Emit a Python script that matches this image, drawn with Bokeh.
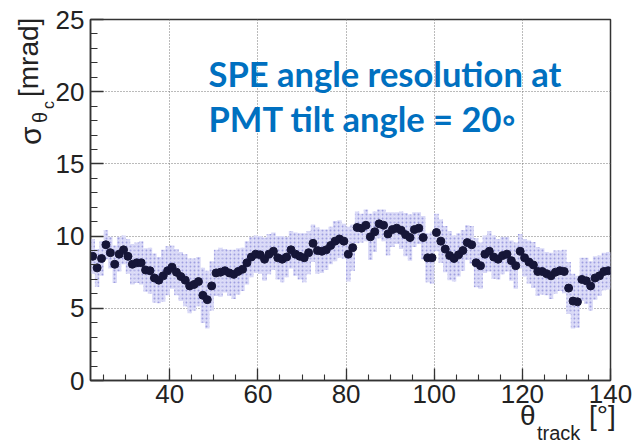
import numpy as np
from bokeh.plotting import figure
from bokeh.models import Range1d, SingleIntervalTicker, Label, ColumnDataSource, GridBox, Div
from bokeh.embed import file_html
from bokeh.resources import INLINE

# ---- data ----
theta_track = [22.5 + i for i in range(118)]
sigma = [
    8.6, 7.8, 8.45, 9.4, 8.85, 8.05, 8.75, 9.05, 8.6,
    8.05, 8.15, 8.15, 7.65, 7.6, 7.1, 6.95, 7.25, 7.6,
    7.85, 7.5, 7.2, 6.95, 6.55, 6.65, 6.85, 5.9, 5.6, 6.55,
    7.45, 7.5, 7.6, 7.45, 7.35, 7.55, 7.7, 8.15, 8.55, 8.75,
    8.7, 8.4, 8.75, 8.95, 8.5, 8.4, 8.55, 9.05, 8.75, 8.6,
    8.5, 8.85, 9.5, 9.0, 8.95, 9.05, 9.35, 9.65, 9.8, 9.65,
    8.75, 9.2, 10.6, 10.55, 10.75, 9.95, 10.3, 10.85, 10.75, 10.15,
    10.45, 10.55, 10.4, 10.1, 9.9, 10.45, 10.55, 9.9, 8.5, 8.5,
    10.25, 9.65, 9.1, 8.65, 8.45, 8.7, 9.0, 9.55, 9.4, 8.15,
    7.95, 8.75, 8.95, 8.55, 8.4, 8.65, 8.75, 8.3, 7.95, 8.95,
    8.5, 8.2, 8.0, 7.55, 7.55, 7.4, 7.25, 7.5, 7.6, 7.55,
    6.4, 5.5, 5.45, 7.0, 6.9, 6.55, 7.1, 7.25, 7.55, 7.6,
]
sigma_err = [
    1.2, 1.3, 1.2, 1.0, 1.1, 1.3, 1.2, 1.0, 1.2,
    1.4, 1.4, 1.5, 1.5, 1.6, 1.7, 1.6, 1.8, 1.7,
    1.5, 1.6, 1.7, 1.8, 1.9, 1.8, 1.7, 1.9, 2.0, 1.7,
    1.6, 1.7, 1.5, 1.6, 1.7, 1.6, 1.5, 1.5, 1.4, 1.3,
    1.3, 1.5, 1.4, 1.3, 1.5, 1.6, 1.4, 1.3, 1.5, 1.6,
    1.7, 1.5, 1.3, 1.6, 1.5, 1.4, 1.3, 1.4, 1.3, 1.2,
    1.9, 1.6, 1.1, 1.0, 1.1, 1.6, 1.4, 1.0, 1.1, 1.5,
    1.2, 1.1, 1.3, 1.5, 1.6, 1.2, 1.1, 1.5, 1.7, 1.8,
    1.3, 1.5, 1.6, 1.7, 1.6, 1.5, 1.4, 1.2, 1.3, 1.7,
    1.6, 1.3, 1.4, 1.5, 1.4, 1.3, 1.2, 1.4, 1.6, 1.2,
    1.3, 1.5, 1.6, 1.7, 1.6, 1.5, 1.6, 1.5, 1.4, 1.5,
    1.8, 1.9, 1.8, 1.5, 1.6, 1.7, 1.5, 1.4, 1.3, 1.3,
]
bin_width = 1.0
x_ticks_interval = 20
y_ticks_interval = 5
title_lines = ["SPE angle resolution at", "PMT tilt angle = 20\u25e6"]

x = np.array(theta_track)
y = np.array(sigma)
e = np.array(sigma_err)
src = ColumnDataSource(dict(
    x=x, y=y,
    left=x - bin_width / 2, right=x + bin_width / 2,
    bottom=y - e, top=y + e,
))

W, H = 637, 445
L, R, T, B = 90, 27, 19, 65
p = figure(width=W, height=H, output_backend="svg", toolbar_location=None,
           x_range=Range1d(22, 140), y_range=Range1d(0, 25),
           min_border_left=L, min_border_right=R, min_border_top=T, min_border_bottom=B)
p.background_fill_color = "white"
p.border_fill_color = "white"
p.outline_line_color = "#333333"
p.outline_line_width = 1.5

p.quad(left="left", right="right", bottom="bottom", top="top", source=src,
       fill_color="#dadaf7", line_color=None,
       hatch_pattern="dot", hatch_color="#9e9ee0", hatch_scale=4, hatch_weight=1)
p.scatter("x", "y", source=src, size=8, fill_color="#161638", line_color="#161638")

for ax in (p.xaxis[0], p.yaxis[0]):
    ax.axis_line_color = "#333333"
    ax.axis_line_width = 1.5
    ax.major_tick_line_color = "#333333"
    ax.minor_tick_line_color = "#333333"
    ax.major_tick_line_width = 1.3
    ax.minor_tick_line_width = 1.1
    ax.major_tick_out = 0
    ax.minor_tick_out = 0
    ax.major_label_text_font = "Liberation Sans"
    ax.major_label_text_font_size = "26px"
    ax.major_label_text_color = "#222222"
    ax.axis_label = None

p.xaxis[0].ticker = SingleIntervalTicker(interval=x_ticks_interval, num_minor_ticks=4)
p.yaxis[0].ticker = SingleIntervalTicker(interval=y_ticks_interval, num_minor_ticks=5)
p.xaxis[0].major_tick_in = 12
p.xaxis[0].minor_tick_in = 6
p.yaxis[0].major_tick_in = 13
p.yaxis[0].minor_tick_in = 7
p.xaxis[0].major_label_standoff = 4
p.yaxis[0].major_label_standoff = 6

for g in (p.xgrid[0], p.ygrid[0]):
    g.grid_line_color = "#777777"
    g.grid_line_dash = "1 2"
    g.grid_line_width = 1

# title text inside the frame (pixel -> data helpers)
fw, fh = W - L - R, H - T - B
def dx(px):
    return 22 + (px - L) * 118.0 / fw
def dy(py):
    return (H - B - py) * 25.0 / fh

SHIFT = 0.40  # baseline correction of Label text (fraction of font size)
blue = "#0070C0"
tsize = 34.5
for line, base in zip(title_lines, (87, 132)):
    p.add_layout(Label(x=dx(208), y=dy(base - SHIFT * tsize), text=line,
                       text_font="Lato", text_font_style="bold",
                       text_font_size=f"{tsize}px", text_color=blue,
                       text_baseline="alphabetic"))

# axis titles with sub-scripts, drawn as real SVG text on a transparent layer
def t(x, y, s, size, rot=False):
    tr = f'transform="translate({x},{y}) rotate(-90)"' if rot else f'x="{x}" y="{y}"'
    return (f'<text {tr} font-family="Liberation Sans" font-size="{size}px" '
            f'fill="#222222">{s}</text>')

svg = "".join([
    t(41, 145, "\u03c3", 30, True),
    t(47, 123, "\u03b8", 20, True),
    t(54, 109, "c", 16, True),
    t(38, 97, "[mrad]", 28, True),
    t(520, 425, "\u03b8", 28),
    t(537, 440, "track", 20),
    t(589, 425, "[\u00b0]", 28),
])
html = (f'<svg xmlns="http://www.w3.org/2000/svg" width="{W}" height="{H}" '
        f'style="display:block;position:absolute;left:0;top:0;overflow:visible">{svg}</svg>')
overlay = Div(text=html, width=W, height=H,
              styles={"margin": "0", "padding": "0", "pointer-events": "none"})

layout = GridBox(children=[(p, 0, 0), (overlay, 0, 0)])
open("out.html", "w").write(file_html(layout, INLINE))
